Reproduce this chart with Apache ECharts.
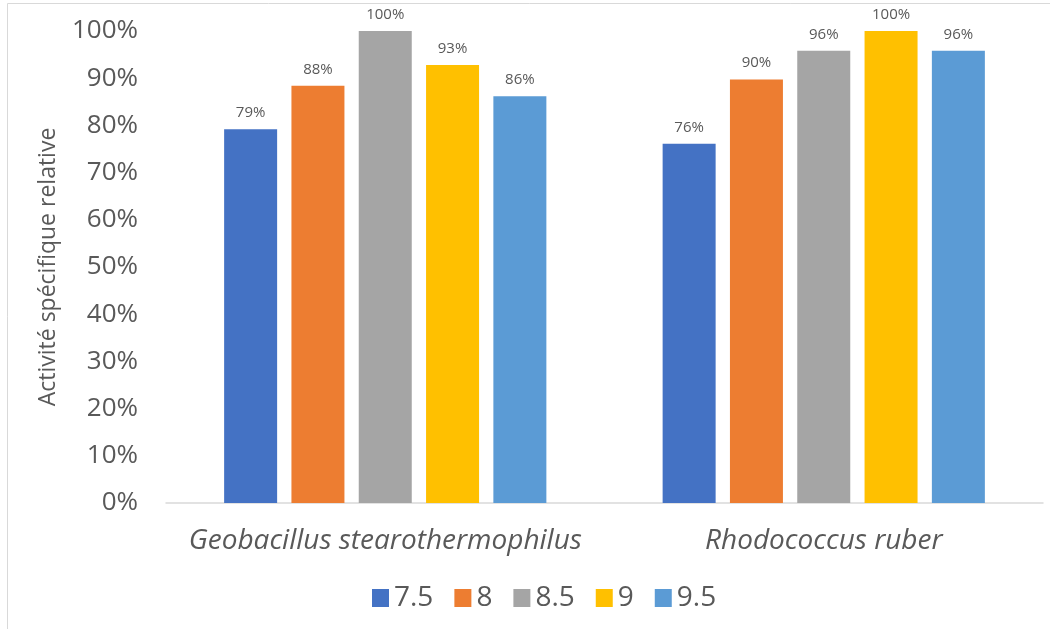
<!DOCTYPE html>
<html><head><meta charset="utf-8">
<script src="https://cdn.jsdelivr.net/npm/echarts@6/dist/echarts.min.js"></script>
<style>html,body{margin:0;padding:0;background:#fff}#c{width:1050px;height:629px}</style>
</head><body><div id="c"></div>
<script>
const categories = ['Geobacillus stearothermophilus', 'Rhodococcus ruber'];
const seriesNames = ['7.5', '8', '8.5', '9', '9.5'];
const s75 = [79.2, 76.1];
const s8 = [88.4, 89.7];
const s85 = [100, 95.8];
const s9 = [92.8, 100];
const s95 = [86.2, 95.8];
const yTicks = [0, 10, 20, 30, 40, 50, 60, 70, 80, 90, 100];
const colors = ['#4472C4', '#ED7D31', '#A5A5A5', '#FFC000', '#5B9BD5'];
const values = [s75, s8, s85, s9, s95];
const font = 'Open Sans';
const chart = echarts.init(document.getElementById('c'), null, {renderer: 'canvas'});
chart.setOption({
  animation: false,
  color: colors,
  textStyle: {fontFamily: font, color: '#595959'},
  graphic: [{type: 'rect', shape: {x: 7.5, y: 3.5, width: 1100, height: 700}, style: {fill: 'none', stroke: '#d9d9d9', lineWidth: 1}, silent: true, z: -1}],
  grid: {left: 166, right: 7, top: 31, bottom: 126, containLabel: false},
  legend: {
    left: 367, top: 579, itemWidth: 17, itemHeight: 18, itemGap: 21,
    icon: 'rect',
    textStyle: {fontFamily: font, fontSize: 28, color: '#595959', padding: [0, 0, 0, 0]},
    data: seriesNames
  },
  xAxis: {
    type: 'category', data: categories,
    axisLine: {lineStyle: {color: '#d9d9d9', width: 1.5}},
    axisTick: {show: false},
    axisLabel: {interval: 0, hideOverlap: false, fontFamily: font, fontSize: 28, fontStyle: 'italic', color: '#595959', margin: 24}
  },
  yAxis: {
    type: 'value', min: yTicks[0], max: yTicks[yTicks.length - 1], interval: 10,
    name: 'Activité spécifique relative', nameLocation: 'middle', nameGap: 106,
    nameTextStyle: {fontFamily: font, fontSize: 23, color: '#595959'},
    axisLine: {show: false}, axisTick: {show: false},
    splitLine: {show: false},
    axisLabel: {fontFamily: font, fontSize: 26, color: '#595959', margin: 28, formatter: v => v + '%'}
  },
  series: seriesNames.map((n, i) => ({
    name: n, type: 'bar', data: values[i], barWidth: 53, barGap: '27%',
    itemStyle: {color: colors[i]},
    label: {show: true, position: 'top', distance: 9, fontFamily: font, fontSize: 15, color: '#595959',
      formatter: p => Math.round(p.value) + '%'}
  }))
});
</script></body></html>
